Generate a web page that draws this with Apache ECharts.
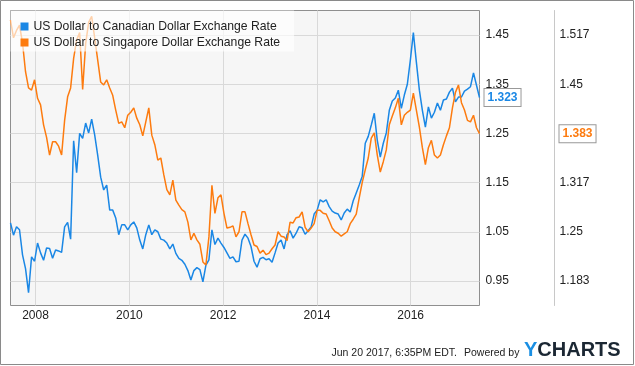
<!doctype html>
<html>
    <head>
        <meta charset="utf-8">
        <title>USD/CAD vs USD/SGD - ECHARTS</title>
        <style>
            html, body { margin: 0; padding: 0; background: #fff; }
            #main { width: 635px; height: 366px; }
        </style>
    </head>
    <body>
        <div id="main"></div>
        <script src="https://cdn.jsdelivr.net/npm/echarts@6/dist/echarts.min.js"></script>
        <script>
            // sampled roughly every 23 days, Jun 20 2007 .. Jun 20 2017
            var startDate = Date.UTC(2007, 5, 20);
            var endDate = Date.UTC(2017, 5, 20);

            var seriesNames = [
                'US Dollar to Canadian Dollar Exchange Rate',
                'US Dollar to Singapore Dollar Exchange Rate'
            ];

            var cadRates = [
                1.068, 1.043, 1.060, 1.054, 1.003, 0.975, 0.926, 0.999, 0.990, 1.027,
                1.007, 0.992, 1.017, 1.016, 0.996, 1.013, 1.011, 1.008, 1.060, 1.069,
                1.035, 1.235, 1.170, 1.250, 1.240, 1.271, 1.251, 1.279, 1.247, 1.206,
                1.161, 1.135, 1.145, 1.094, 1.094, 1.078, 1.044, 1.064, 1.064, 1.054,
                1.064, 1.070, 1.058, 1.033, 1.015, 1.044, 1.064, 1.044, 1.054, 1.050,
                1.035, 1.033, 1.027, 1.015, 1.025, 1.006, 0.996, 0.992, 0.984, 0.971,
                0.952, 0.971, 0.977, 0.973, 0.948, 0.982, 0.993, 1.054, 1.024, 1.037,
                1.027, 1.018, 1.007, 0.996, 0.999, 0.989, 0.990, 1.033, 1.045, 1.037,
                1.020, 0.990, 0.978, 0.995, 0.998, 0.993, 0.995, 0.988, 1.007, 1.027,
                1.033, 1.015, 1.044, 1.052, 1.037, 1.047, 1.060, 1.058, 1.045, 1.052,
                1.060, 1.086, 1.094, 1.115, 1.111, 1.115, 1.101, 1.092, 1.088, 1.086,
                1.074, 1.088, 1.096, 1.090, 1.113, 1.129, 1.145, 1.163, 1.230, 1.244,
                1.267, 1.291, 1.236, 1.202, 1.230, 1.251, 1.297, 1.316, 1.322, 1.338,
                1.301, 1.328, 1.350, 1.399, 1.455, 1.395, 1.338, 1.297, 1.263, 1.304,
                1.281, 1.293, 1.312, 1.297, 1.318, 1.320, 1.334, 1.342, 1.314, 1.324,
                1.324, 1.336, 1.340, 1.345, 1.373, 1.348, 1.323
            ];

            var sgdRates = [
                1.537, 1.513, 1.523, 1.530, 1.506, 1.467, 1.445, 1.442, 1.456, 1.431,
                1.422, 1.395, 1.378, 1.354, 1.372, 1.372, 1.366, 1.354, 1.401, 1.433,
                1.445, 1.485, 1.510, 1.520, 1.443, 1.505, 1.534, 1.542, 1.513, 1.483,
                1.453, 1.449, 1.456, 1.445, 1.435, 1.415, 1.397, 1.399, 1.391, 1.408,
                1.412, 1.418, 1.404, 1.395, 1.380, 1.399, 1.418, 1.381, 1.368, 1.347,
                1.350, 1.327, 1.307, 1.300, 1.320, 1.293, 1.286, 1.280, 1.277, 1.263,
                1.239, 1.248, 1.239, 1.233, 1.209, 1.205, 1.243, 1.313, 1.275, 1.296,
                1.300, 1.275, 1.255, 1.256, 1.258, 1.243, 1.250, 1.277, 1.277, 1.261,
                1.246, 1.232, 1.230, 1.221, 1.225, 1.219, 1.221, 1.227, 1.232, 1.250,
                1.244, 1.243, 1.238, 1.263, 1.262, 1.269, 1.270, 1.277, 1.256, 1.250,
                1.255, 1.261, 1.279, 1.279, 1.275, 1.274, 1.265, 1.255, 1.250, 1.248,
                1.244, 1.247, 1.250, 1.261, 1.267, 1.274, 1.296, 1.317, 1.334, 1.350,
                1.377, 1.384, 1.354, 1.331, 1.345, 1.361, 1.395, 1.407, 1.418, 1.431,
                1.395, 1.408, 1.412, 1.415, 1.438, 1.415, 1.392, 1.364, 1.341, 1.364,
                1.374, 1.354, 1.350, 1.354, 1.368, 1.380, 1.391, 1.418, 1.439, 1.449,
                1.425, 1.415, 1.401, 1.399, 1.408, 1.391, 1.383
            ];

            var yearTicks = [2008, 2010, 2012, 2014, 2016];
            var cadTicks = [0.95, 1.05, 1.15, 1.25, 1.35, 1.45];
            var sgdTicks = [1.18333, 1.25, 1.31667, 1.38333, 1.45, 1.51667];
            var stampText = 'Jun 20 2017, 6:35PM EDT.';

            var fontFamily = '"Liberation Sans", Arial, sans-serif';
            var blue = '#1a87e5';
            var orange = '#fd7b0f';

            var step = (endDate - startDate) / (cadRates.length - 1);
            function toPairs(values) {
                return values.map(function (v, i) {
                    return [startDate + i * step, v];
                });
            }
            function tickLabel(v) {
                return String(+v.toFixed(3));
            }
            var yearStamps = yearTicks.map(function (y) {
                return Date.UTC(y, 0, 1);
            });

            function tag(color) {
                return {
                    show: true,
                    precision: 3,
                    color: color,
                    fontWeight: 'bold',
                    fontSize: 12,
                    fontFamily: fontFamily,
                    backgroundColor: '#fff',
                    borderColor: '#999',
                    borderWidth: 1,
                    borderRadius: 0,
                    padding: [3, 3, 2, 3],
                    margin: 5,
                    shadowBlur: 0
                };
            }

            var chart = echarts.init(document.getElementById('main'));

            chart.setOption({
                animation: false,
                textStyle: { fontFamily: fontFamily },
                color: [blue, orange],
                legend: {
                    left: 10.5,
                    top: 10.5,
                    orient: 'vertical',
                    icon: 'rect',
                    itemWidth: 8,
                    itemHeight: 8,
                    itemGap: 4,
                    padding: [10, 14, 3, 10],
                    backgroundColor: 'rgba(255,255,255,0.65)',
                    textStyle: { fontSize: 12.2, color: '#222' },
                    data: seriesNames
                },
                grid: {
                    left: 10.5,
                    top: 10.5,
                    width: 469,
                    height: 295,
                    show: true,
                    backgroundColor: '#f6f6f6',
                    borderColor: '#8f8f8f',
                    borderWidth: 1
                },
                // timestamps on a plain value axis so the year ticks can be placed exactly
                xAxis: {
                    type: 'value',
                    min: startDate,
                    max: endDate,
                    axisLine: { show: false },
                    axisTick: { show: false, customValues: yearStamps },
                    axisLabel: {
                        customValues: yearStamps,
                        formatter: function (v) {
                            return String(new Date(v).getUTCFullYear());
                        },
                        color: '#222',
                        fontSize: 12,
                        margin: 4
                    },
                    splitLine: { show: true, lineStyle: { color: '#d9d9d9' } },
                    axisPointer: { show: false }
                },
                yAxis: [{
                    type: 'value',
                    position: 'right',
                    min: 0.9,
                    max: 1.5,
                    axisLine: { show: false },
                    axisTick: { show: false, customValues: cadTicks },
                    axisLabel: {
                        customValues: cadTicks,
                        formatter: tickLabel,
                        color: '#222',
                        fontSize: 12,
                        margin: 6
                    },
                    splitLine: { show: true, lineStyle: { color: '#d9d9d9' } },
                    axisPointer: {
                        show: true,
                        status: 'show',
                        value: cadRates[cadRates.length - 1],
                        triggerTooltip: false,
                        lineStyle: { opacity: 0 },
                        label: tag(blue)
                    }
                }, {
                    type: 'value',
                    position: 'right',
                    offset: 75,
                    min: 1.15,
                    max: 1.55,
                    axisLine: { show: true, lineStyle: { color: '#c8c8c8' } },
                    axisTick: { show: false, customValues: sgdTicks },
                    axisLabel: {
                        customValues: sgdTicks,
                        formatter: tickLabel,
                        color: '#222',
                        fontSize: 12,
                        margin: 5
                    },
                    splitLine: { show: false },
                    axisPointer: {
                        show: true,
                        status: 'show',
                        value: sgdRates[sgdRates.length - 1],
                        triggerTooltip: false,
                        lineStyle: { opacity: 0 },
                        label: tag(orange)
                    }
                }],
                series: [{
                    name: seriesNames[0],
                    type: 'line',
                    yAxisIndex: 0,
                    showSymbol: false,
                    lineStyle: { width: 1.5 },
                    data: toPairs(cadRates)
                }, {
                    name: seriesNames[1],
                    type: 'line',
                    yAxisIndex: 1,
                    showSymbol: false,
                    lineStyle: { width: 1.5 },
                    data: toPairs(sgdRates)
                }],
                graphic: [{
                    type: 'rect',
                    silent: true,
                    z: 100,
                    shape: { x: 0.5, y: 0.5, width: 633, height: 364 },
                    style: { fill: 'none', stroke: '#8a8a8a', lineWidth: 1 }
                }, {
                    type: 'text',
                    silent: true,
                    style: {
                        text: stampText,
                        x: 457,
                        y: 353,
                        textAlign: 'right',
                        textVerticalAlign: 'middle',
                        fill: '#222',
                        font: '10.5px ' + fontFamily
                    }
                }, {
                    type: 'text',
                    silent: true,
                    style: {
                        text: 'Powered by',
                        x: 464,
                        y: 353,
                        textAlign: 'left',
                        textVerticalAlign: 'middle',
                        fill: '#222',
                        font: '10.5px ' + fontFamily
                    }
                }, {
                    type: 'text',
                    silent: true,
                    style: {
                        text: '{y|Y}{c|CHARTS}',
                        x: 524,
                        y: 350,
                        textAlign: 'left',
                        textVerticalAlign: 'middle',
                        rich: {
                            y: { fill: '#1a8fe3', font: 'bold 20px ' + fontFamily },
                            c: { fill: '#1b2733', font: 'bold 20px ' + fontFamily }
                        }
                    }
                }]
            });
        </script>
    </body>
</html>
